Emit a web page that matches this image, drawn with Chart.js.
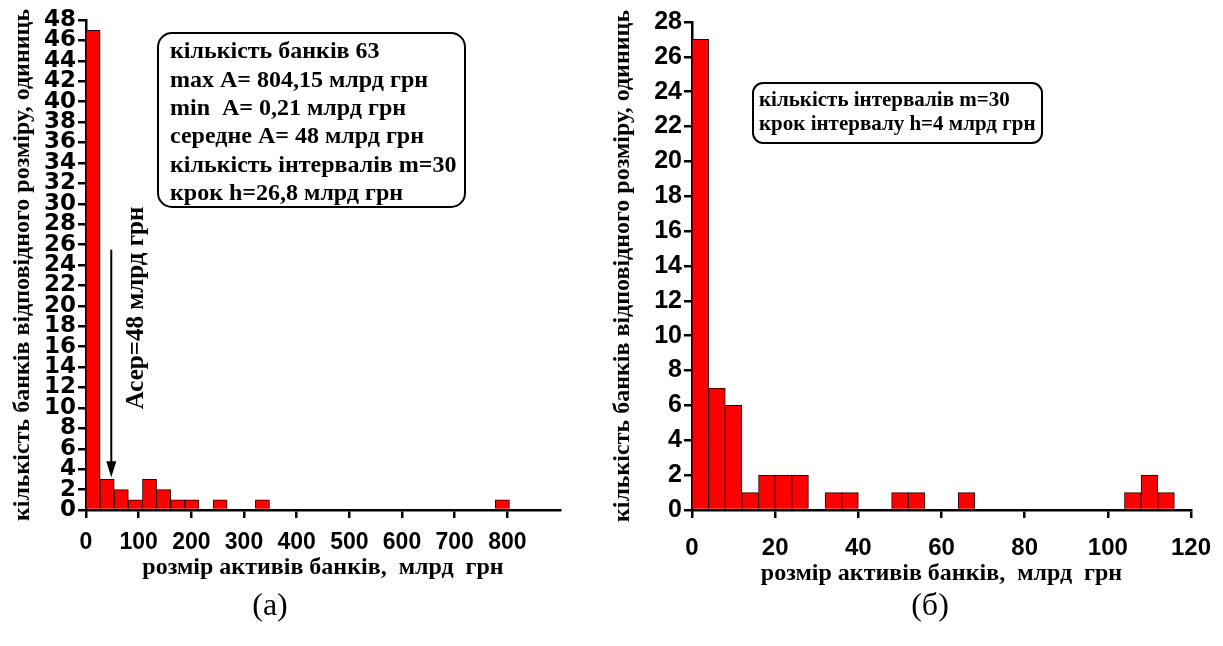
<!DOCTYPE html>
<html>
<head>
<meta charset="utf-8">
<script src="https://cdn.jsdelivr.net/npm/chart.js@4.4.0/dist/chart.umd.min.js"></script>
<style>
  html, body { margin: 0; padding: 0; background: #fff; width: 1223px; height: 646px; overflow: hidden; position: relative; }
  canvas { position: absolute; top: 0; }
  #histAll { left: 0; }
  #histSmall { left: 600px; }
  .cap { position: absolute; top: 586px; font: 32px 'Liberation Serif', 'Times New Roman', serif; color: #000; transform: translateX(-50%); }
</style>
</head>
<body>
<canvas id="histAll" width="600" height="600"></canvas>
<canvas id="histSmall" width="650" height="600"></canvas>
<div class="cap" style="left:270px">(а)</div>
<div class="cap" style="left:930px">(б)</div>
<script>
// ---- data: all banks, 30 intervals of 26.8 bn UAH ----
const allBinWidth = 26.8;
const allCounts = [47, 3, 2, 1, 3, 2, 1, 1, 0, 1, 0, 0, 1, 0, 0,
                   0, 0, 0, 0, 0, 0, 0, 0, 0, 0, 0, 0, 0, 0, 1];
const allXTicks = [0, 100, 200, 300, 400, 500, 600, 700, 800];
const allXMax = 900;
const allYMax = 48;
const meanAssets = 48;
const allNotes = [
  'кількість банків 63',
  'max A= 804,15 млрд грн',
  'min  A= 0,21 млрд грн',
  'середне A= 48 млрд грн',
  'кількість інтервалів m=30',
  'крок h=26,8 млрд грн'
];
const meanLabel = 'Асер=48 млрд грн';

// ---- data: banks up to 120 bn UAH, 30 intervals of 4 bn UAH ----
const smallBinWidth = 4;
const smallCounts = [27, 7, 6, 1, 2, 2, 2, 0, 1, 1, 0, 0, 1, 1, 0,
                     0, 1, 0, 0, 0, 0, 0, 0, 0, 0, 0, 1, 2, 1, 0];
const smallXTicks = [0, 20, 40, 60, 80, 100, 120];
const smallXMax = 120;
const smallYMax = 28;
const smallNotes = [
  'кількість інтервалів m=30',
  'крок інтервалу h=4 млрд грн'
];

const xTitle = 'розмір активів банків,  млрд  грн';
const yTitle = 'кількість банків відповідного розміру, одиниць';

function binPoints(counts, width) {
  return counts.map((c, i) => ({ x: width * (i + 0.5), y: c }));
}

const SERIF = "'Liberation Serif', 'Times New Roman', serif";
const SANS = "'Liberation Sans', Arial, sans-serif";
const WIDE = "'DejaVu Sans', 'Liberation Sans', sans-serif";

function makeScales(o) {
  return {
    x: {
      type: 'linear', min: 0, max: o.xMax, offset: false,
      afterFit: s => { s.height = o.xHeight; },
      afterBuildTicks: s => { s.ticks = o.xTicks.map(v => ({ value: v })); },
      border: { display: true, color: '#000', width: 2.5 },
      grid: { drawOnChartArea: false, drawTicks: true, tickLength: 8, color: '#000', lineWidth: 2.5, offset: false },
      ticks: { color: '#000', font: { family: SANS, weight: 'bold', size: o.xTickSize }, padding: o.xTickPad, maxRotation: 0, autoSkip: false },
      title: { display: true, text: xTitle, color: '#000', font: { family: SERIF, weight: 'bold', size: 24 }, padding: { top: 0, bottom: o.xTitlePad } }
    },
    y: {
      min: 0, max: o.yMax,
      afterFit: s => { s.width = o.yWidth; },
      border: { display: true, color: '#000', width: 2.5 },
      grid: { drawOnChartArea: false, drawTicks: true, tickLength: 8, color: '#000', lineWidth: 2.5 },
      ticks: { stepSize: 2, color: '#000', font: { family: o.yTickFamily, weight: 'bold', size: o.yTickSize }, padding: 2, autoSkip: false },
      title: { display: true, text: yTitle, color: '#000', font: { family: SERIF, weight: 'bold', size: 24 }, padding: { top: 8, bottom: 0 } }
    }
  };
}

function noteBox(ctx, box) {
  ctx.save();
  ctx.lineWidth = 2;
  ctx.strokeStyle = '#000';
  ctx.beginPath();
  ctx.roundRect(box.x, box.y, box.w, box.h, box.r);
  ctx.stroke();
  ctx.fillStyle = '#000';
  ctx.font = 'bold ' + box.size + 'px ' + SERIF;
  ctx.textBaseline = 'middle';
  ctx.textAlign = 'left';
  box.lines.forEach((t, i) => ctx.fillText(t, box.x + box.pad, box.y + box.first + i * box.step));
  ctx.restore();
}

const allNotesPlugin = {
  id: 'allNotes',
  afterDatasetsDraw(chart) {
    const { ctx, scales: { x, y } } = chart;
    noteBox(ctx, { x: 158, y: 33, w: 307, h: 174, r: 14, pad: 12, first: 19, step: 28.4, size: 24, lines: allNotes });
    // arrow marking the mean asset size
    const ax = x.getPixelForValue(meanAssets);
    const top = y.getPixelForValue(25.5);
    const tip = y.getPixelForValue(3.2);
    ctx.save();
    ctx.strokeStyle = '#000';
    ctx.fillStyle = '#000';
    ctx.lineWidth = 2;
    ctx.beginPath();
    ctx.moveTo(ax, top);
    ctx.lineTo(ax, tip - 12);
    ctx.stroke();
    ctx.beginPath();
    ctx.moveTo(ax, tip);
    ctx.lineTo(ax - 5, tip - 16);
    ctx.lineTo(ax + 5, tip - 16);
    ctx.closePath();
    ctx.fill();
    ctx.translate(ax + 25, y.getPixelForValue(19.8));
    ctx.rotate(-Math.PI / 2);
    ctx.font = 'bold 25px ' + SERIF;
    ctx.textAlign = 'center';
    ctx.textBaseline = 'middle';
    ctx.fillText(meanLabel, 0, 0);
    ctx.restore();
  }
};

const smallNotesPlugin = {
  id: 'smallNotes',
  afterDatasetsDraw(chart) {
    noteBox(chart.ctx, { x: 153, y: 83, w: 289, h: 60, r: 10, pad: 6, first: 18, step: 24, size: 21, lines: smallNotes });
  }
};

function barDataset(points) {
  return {
    data: points,
    backgroundColor: '#ff0000',
    borderColor: '#2a0000',
    borderWidth: 1,
    barPercentage: 1,
    categoryPercentage: 1
  };
}

Chart.defaults.animation = false;

new Chart(document.getElementById('histAll'), {
  type: 'bar',
  data: { datasets: [barDataset(binPoints(allCounts, allBinWidth))] },
  options: {
    responsive: false,
    devicePixelRatio: 1,
    layout: { padding: { left: 0, right: 40, top: 20, bottom: 0 } },
    plugins: { legend: { display: false }, tooltip: { enabled: false } },
    scales: makeScales({ xMax: allXMax, xTicks: allXTicks, yMax: allYMax, xHeight: 90, yWidth: 86,
                         xTickSize: 23, yTickSize: 23, yTickFamily: WIDE, xTickPad: 11, xTitlePad: 18 })
  },
  plugins: [allNotesPlugin]
});

new Chart(document.getElementById('histSmall'), {
  type: 'bar',
  data: { datasets: [barDataset(binPoints(smallCounts, smallBinWidth))] },
  options: {
    responsive: false,
    devicePixelRatio: 1,
    layout: { padding: { left: 0, right: 59, top: 22, bottom: 0 } },
    plugins: { legend: { display: false }, tooltip: { enabled: false } },
    scales: makeScales({ xMax: smallXMax, xTicks: smallXTicks, yMax: smallYMax, xHeight: 90, yWidth: 92,
                         xTickSize: 24, yTickSize: 25, yTickFamily: SANS, xTickPad: 16, xTitlePad: 12 })
  },
  plugins: [smallNotesPlugin]
});
</script>
</body>
</html>
